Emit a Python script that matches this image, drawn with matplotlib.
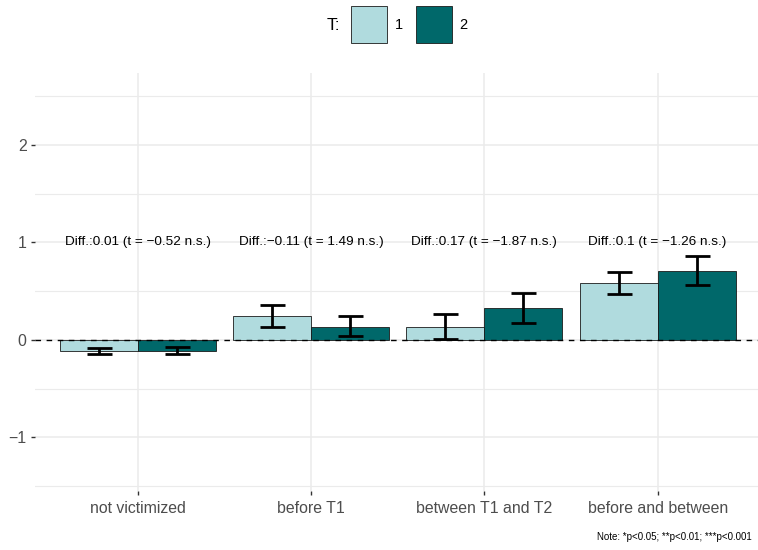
import numpy as np
import matplotlib
matplotlib.use("Agg")
import matplotlib.pyplot as plt
from matplotlib.patches import Rectangle

plt.rcParams['font.family'] = ['Liberation Sans', 'DejaVu Sans']

# Data
categories = ["not victimized", "before T1", "between T1 and T2", "before and between"]
groups = ["1", "2"]
mean_t1 = [-0.113, 0.243, 0.137, 0.588]
mean_t2 = [-0.110, 0.137, 0.325, 0.710]
lo_t1 = [-0.147, 0.133, 0.013, 0.475]
hi_t1 = [-0.079, 0.360, 0.267, 0.697]
lo_t2 = [-0.145, 0.040, 0.178, 0.564]
hi_t2 = [-0.078, 0.240, 0.480, 0.860]
annotations = ["Diff.:0.01 (t = \u22120.52 n.s.)",
               "Diff.:\u22120.11 (t = 1.49 n.s.)",
               "Diff.:0.17 (t = \u22121.87 n.s.)",
               "Diff.:0.1 (t = \u22121.26 n.s.)"]
annot_y = 1.0
yticks = [-1, 0, 1, 2]

c_light = "#B0DBDE"
c_dark = "#00686A"

W, H = 758, 550
fig = plt.figure(figsize=(W / 100, H / 100), dpi=100)
ax = fig.add_axes([35 / W, 1 - 491 / H, 723 / W, (491 - 72.7) / H])

x = np.arange(1, len(categories) + 1)
bw = 0.45
for means, lo, hi, col, off in [(mean_t1, lo_t1, hi_t1, c_light, -bw / 2),
                                (mean_t2, lo_t2, hi_t2, c_dark, bw / 2)]:
    m = np.array(means)
    ax.bar(x + off, m, width=bw, color=col, edgecolor="#1a1a1a", linewidth=0.6, zorder=3)
    ax.errorbar(x + off, m, yerr=[m - np.array(lo), np.array(hi) - m], fmt="none",
                ecolor="black", elinewidth=2.0, capsize=9, capthick=2.0, zorder=4)

ax.axhline(0, color="black", linestyle=(0, (4, 4)), linewidth=1.0, zorder=5)

for xi, txt in zip(x, annotations):
    ax.text(xi, annot_y, txt, ha="center", va="center", fontsize=9.7, color="black", zorder=6)

ax.set_xlim(0.407, 4.579)
ax.set_ylim(-1.55, 2.74)
ax.set_xticks(x)
ax.set_xticklabels(categories)
ax.set_yticks(yticks)
ax.set_yticklabels([str(t).replace("-", "\u2212") for t in yticks])
ax.set_yticks([-1.5, -0.5, 0.5, 1.5, 2.5], minor=True)
ax.tick_params(axis="both", which="major", length=3, width=1, color="#333333",
               labelcolor="#4D4D4D")
ax.tick_params(axis="x", labelsize=11.4, pad=4)
ax.tick_params(axis="y", labelsize=11.4, pad=3)
ax.tick_params(which="minor", length=0)
ax.grid(True, which="major", color="#EBEBEB", linewidth=1.1, zorder=0)
ax.grid(True, which="minor", axis="y", color="#EBEBEB", linewidth=0.8, zorder=0)
ax.set_axisbelow(True)
for s in ax.spines.values():
    s.set_visible(False)

# Legend at the top
fig.text(333 / W, 1 - 25 / H, "T:", ha="center", va="center", fontsize=12.5)
for (x0, lab, col) in [(350.7, "1", c_light), (415.7, "2", c_dark)]:
    fig.add_artist(Rectangle((x0 / W, 1 - 42.7 / H), 36 / W, 36.5 / H,
                             transform=fig.transFigure, facecolor=col,
                             edgecolor="#1a1a1a", linewidth=0.6))
    fig.text((x0 + 36 + 12) / W, 1 - 25 / H, lab, ha="center", va="center", fontsize=10.5)

fig.text(752 / W, 1 - 537 / H, "Note: *p<0.05; **p<0.01; ***p<0.001",
         ha="right", va="center", fontsize=7.0)

fig.savefig("out.png", dpi=100)
